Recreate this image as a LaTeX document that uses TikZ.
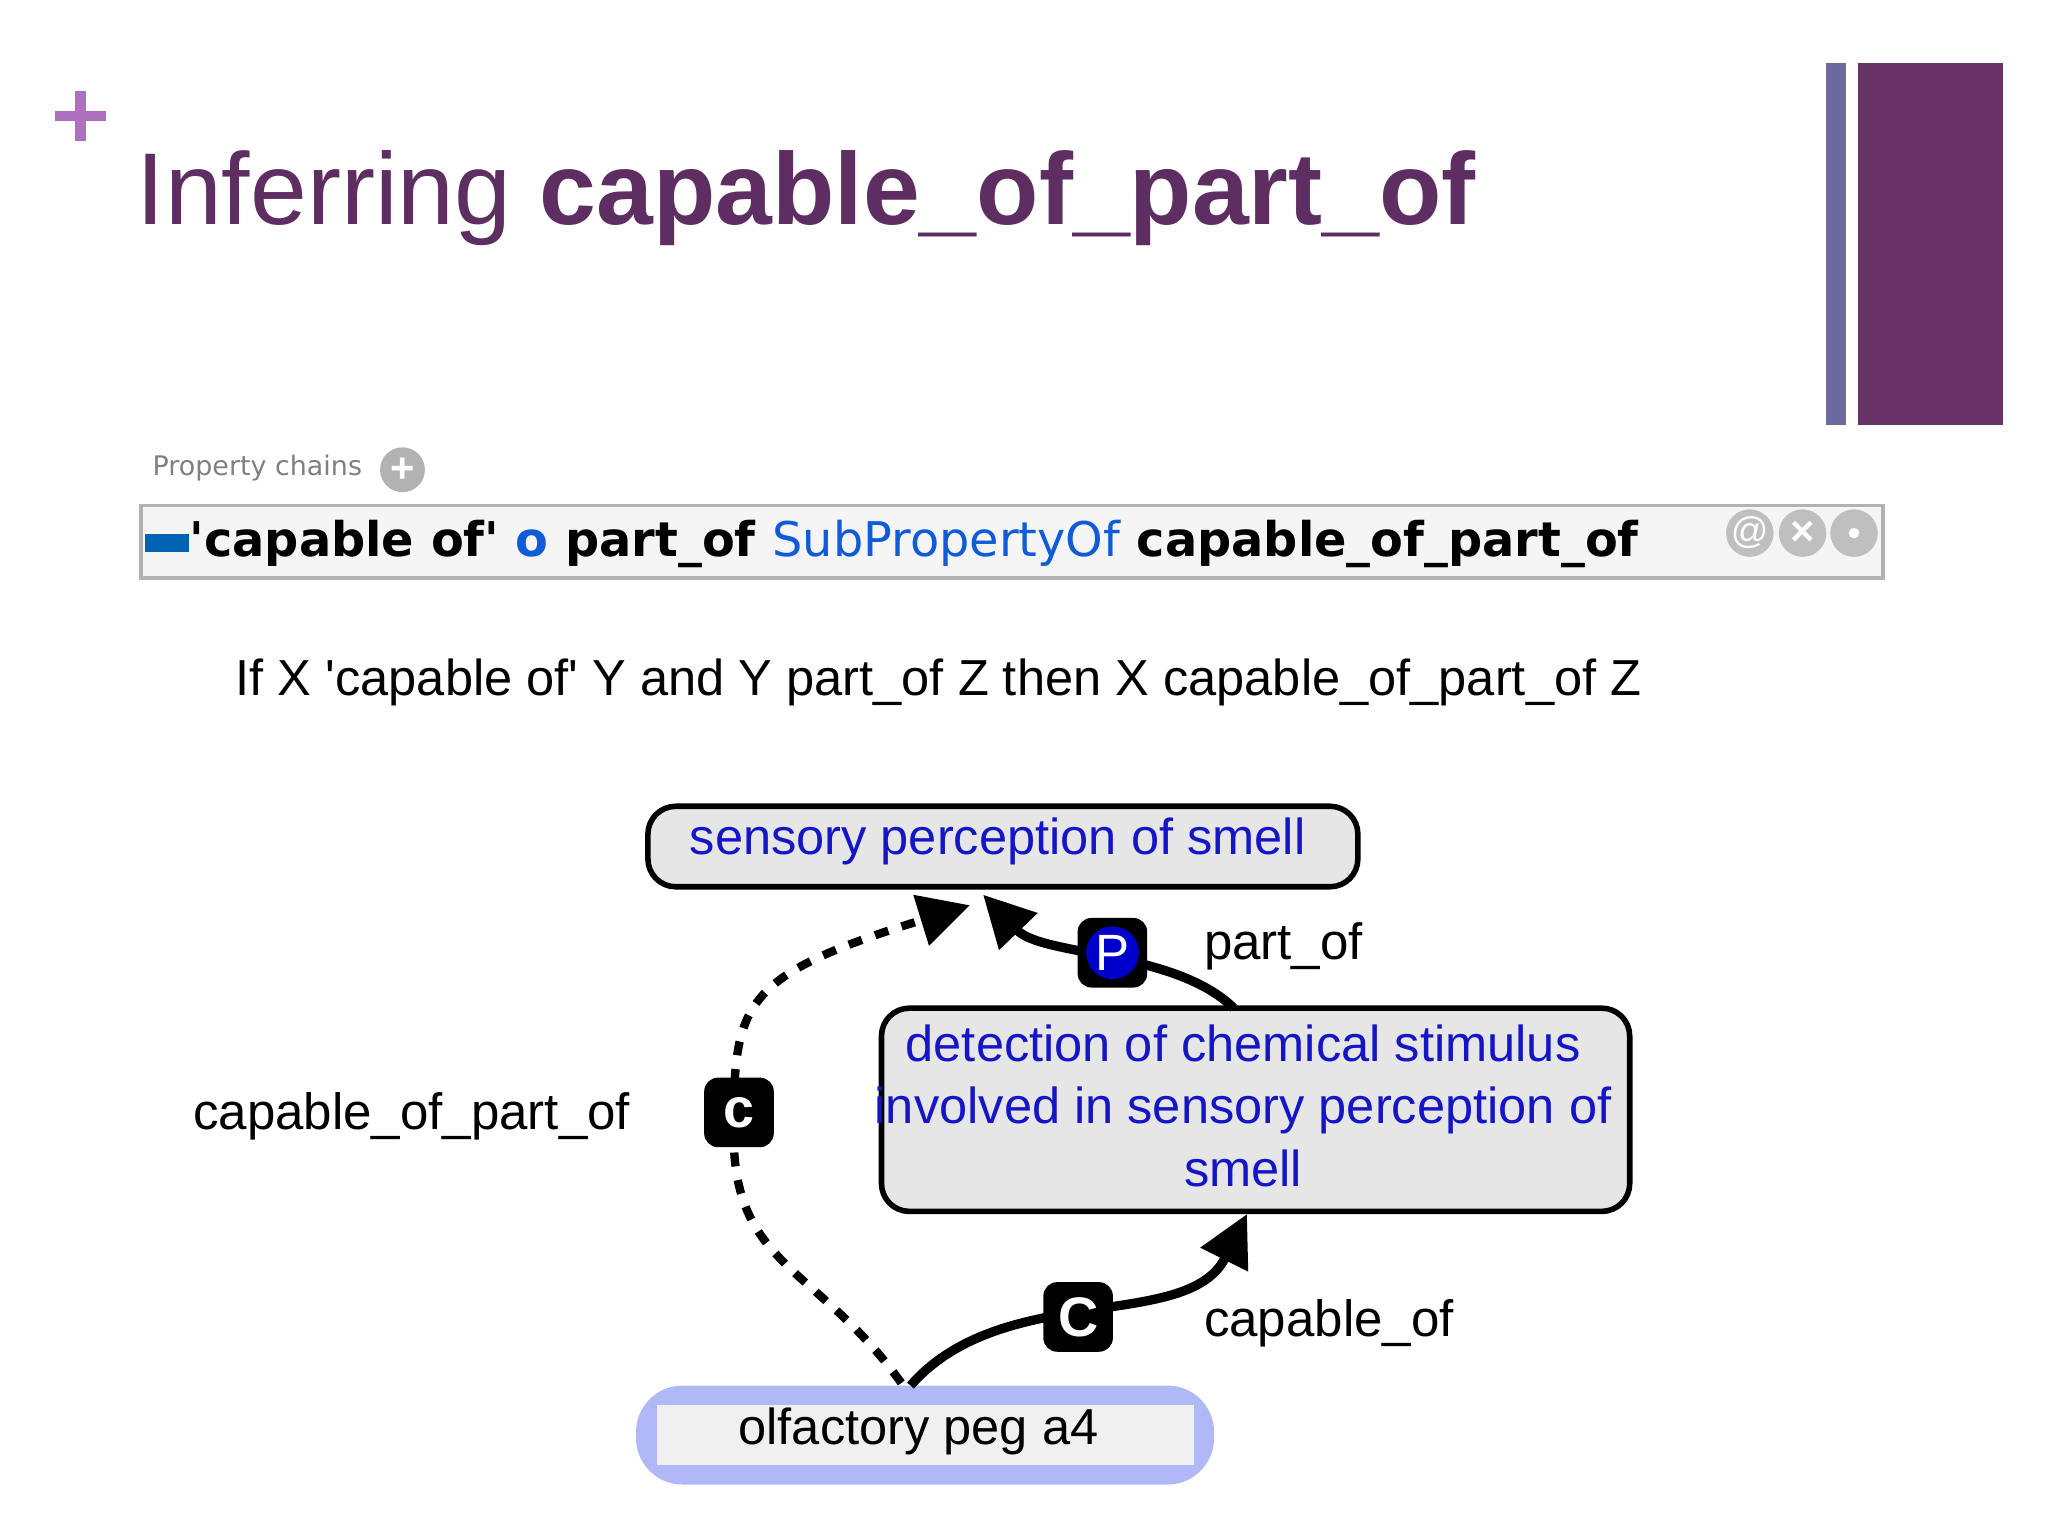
\documentclass[tikz,border=0pt]{standalone}
\usepackage{fontspec}
\setmainfont{Liberation Sans}
\newfontfamily\dv{DejaVu Sans}
\usetikzlibrary{arrows.meta}
\definecolor{ttl}{HTML}{5E2E62}
\definecolor{plusc}{HTML}{B070C0}
\definecolor{barA}{HTML}{6B6A9E}
\definecolor{barB}{HTML}{673366}
\definecolor{nblue}{HTML}{1515C8}
\definecolor{nfill}{HTML}{E6E6E6}
\definecolor{selb}{HTML}{B0B8F8}
\tikzset{
 nodebox/.style={draw=black,line width=1.2pt,rounded corners=6pt,fill=nfill},
 ntext/.style={text=nblue,font=\fontsize{10.9}{13.5}\selectfont,align=center},
 edge/.style={line width=2pt,-{Triangle[length=11pt,width=11pt]}},
 badge/.style={fill=black,rounded corners=3pt,minimum size=15pt,inner sep=0pt,text=white,font=\bfseries\fontsize{12}{12}\selectfont},
 lbl/.style={font=\fontsize{11}{14}\selectfont,anchor=west},
}
\begin{document}
\begin{tikzpicture}[x=0.01cm,y=-0.01cm]
\useasboundingbox (0,0) rectangle (1552,1164);
\fill[white] (0,0) rectangle (1552,1164);
% plus
\fill[plusc] (42,84) rectangle (80,92);
\fill[plusc] (57,69) rectangle (65,107);
\node[anchor=base west,inner sep=0,text=ttl,font=\fontsize{22}{24}\selectfont] (title) at (103,170) {Inferring \textbf{capable\_of\_part\_of}};
\fill[barA] (1384,48) rectangle (1399,322);
\fill[barB] (1408,48) rectangle (1518,322);
% property chain
\node[anchor=west,inner sep=0,text=gray,font=\dv\fontsize{5.8}{7}\selectfont] (pc) at (115,355) {Property chains};
\fill[gray!60] (305,356) circle (17);
\node[text=white,font=\bfseries\fontsize{9}{9}\selectfont,inner sep=0] at (305,356) {+};
\draw[gray!60,fill=green!3!gray!8,line width=0.8pt] (107,383) rectangle (1427,438);
\fill[blue!45!cyan!70!black] (110,405) rectangle (143,418);
\node[anchor=west,inner sep=0,font=\dv\bfseries\fontsize{10.3}{13}\selectfont] (chain) at (143,412) {\textquotesingle capable of\textquotesingle{} \textcolor{nblue!70!cyan}{o} part\_of \textcolor{nblue!70!cyan}{\mdseries SubPropertyOf} capable\_of\_part\_of};
\foreach \x in {1326,1366,1405}{\fill[gray!50] (\x,404) circle (18);}
\node[text=white,inner sep=0,font=\fontsize{8}{8}\selectfont] at (1326,404) {@};
\node[text=white,inner sep=0,font=\bfseries\fontsize{9}{9}\selectfont] at (1366,404) {×};
\fill[white] (1405,404) circle (4);
\node[anchor=base west,inner sep=0,font=\fontsize{10.9}{14}\selectfont] (rule) at (178,527) {If X \textquotesingle capable of\textquotesingle{} Y and Y part\_of Z then X capable\_of\_part\_of Z};
% nodes
\draw[nodebox] (491,611) rectangle (1029,672);
\node[ntext] (sp) at (756,638) {sensory perception of smell};
\draw[nodebox] (668,764) rectangle (1235,918);
\node[ntext] (dc) at (942,838) {detection of chemical stimulus\\involved in sensory perception of\\smell};
\fill[selb,rounded corners=10pt] (482,1050) rectangle (920,1125);
\fill[nfill!60!white] (498,1065) rectangle (905,1110);
\node[font=\fontsize{10.9}{14}\selectfont] (ol) at (696,1085) {olfactory peg a4};
% edges
\coordinate (dctop) at (935,764);
\coordinate (sparr) at (745,678);
\coordinate (dcbot) at (945,920);
\coordinate (oltop) at (690,1050);
\coordinate (oltop2) at (683,1048);
\coordinate (sparr2) at (735,686);
\draw[edge] (dctop) .. controls (890,720) and (790,725) .. (sparr);
\draw[edge] (oltop) .. controls (760,970) and (900,1010) .. (dcbot);
\draw[edge,dashed,line width=1.8pt] (oltop2) .. controls (620,960) and (556,960) .. (556,860) .. controls (556,760) and (560,740) .. (sparr2);
% badges
\node[badge] (bp) at (843,722) {};
\fill[blue!80!black] (843,722) circle (20);
\node[text=white,font=\fontsize{11}{11}\selectfont,inner sep=0] at (843,722) {P};
\node[lbl] (lp) at (900,717) {part\_of};
\node[badge] (bc) at (817,998) {C};
\node[lbl] (lc) at (900,1003) {capable\_of};
\node[badge] (bcp) at (560,843) {c};
\node[lbl,anchor=east] (lcp) at (490,846) {capable\_of\_part\_of};
\end{tikzpicture}
\end{document}
